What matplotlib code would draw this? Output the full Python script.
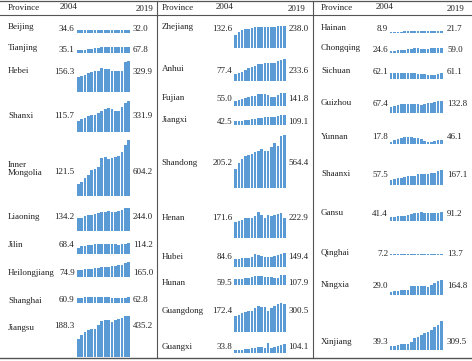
import matplotlib
matplotlib.use('Agg')
import matplotlib.pyplot as plt

# ---------------- data (2004 ... 2019) ----------------
years = list(range(2004, 2020))

beijing      = [34.6, 35, 36, 36, 35, 35, 35, 34, 34, 33, 33, 33, 32, 32, 32, 32.0]
tianjing     = [35.1, 38, 40, 44, 48, 55, 60, 64, 66, 67, 66, 65, 64, 65, 66, 67.8]
hebei        = [156.3, 175, 182, 207, 215, 222, 222, 255, 240, 240, 229, 229, 229, 229, 325, 329.9]
shanxi       = [115.7, 134, 152, 166, 177, 181, 199, 224, 242, 253, 242, 224, 224, 264, 314, 331.9]
inner_mong   = [121.5, 150, 193, 229, 282, 286, 311, 407, 418, 393, 411, 418, 429, 471, 550, 604.2]
liaoning     = [134.2, 142, 160, 168, 168, 180, 190, 200, 205, 210, 205, 205, 210, 225, 242, 244.0]
jilin        = [68.4, 82, 90, 94, 100, 105, 108, 108, 108, 108, 104, 112, 100, 108, 110, 114.2]
heilongjiang = [74.9, 80, 85, 90, 95, 100, 105, 108, 110, 115, 118, 120, 128, 138, 150, 165.0]
shanghai     = [60.9, 62, 63, 63, 64, 65, 66, 68, 67, 65, 62, 60, 60, 61, 62, 62.8]
jiangsu      = [188.3, 236, 272, 290, 297, 300, 344, 388, 399, 399, 380, 399, 409, 417, 435, 435.2]

zhejiang     = [132.6, 167, 191, 202, 205, 212, 229, 226, 222, 219, 219, 222, 229, 236, 236, 238.0]
anhui        = [77.4, 89, 100, 118, 136, 154, 164, 182, 189, 196, 193, 200, 200, 211, 232, 233.6]
fujian       = [55.0, 60, 75, 85, 96, 103, 103, 128, 124, 124, 121, 96, 89, 114, 142, 141.8]
jiangxi      = [42.5, 45, 48, 52, 58, 65, 70, 75, 80, 82, 85, 88, 90, 95, 105, 109.1]
shandong     = [205.2, 264, 313, 343, 355, 366, 381, 396, 415, 396, 400, 445, 483, 453, 564, 564.4]
henan        = [171.6, 189, 202, 223, 223, 223, 240, 281, 257, 223, 247, 240, 247, 260, 274, 222.9]
hubei        = [84.6, 88, 96, 103, 103, 114, 139, 128, 121, 114, 114, 114, 121, 128, 149, 149.4]
hunan        = [59.5, 65, 70, 75, 78, 82, 95, 100, 95, 90, 88, 85, 80, 76, 105, 107.9]
guangdong    = [172.4, 181, 199, 217, 224, 228, 253, 279, 272, 272, 224, 261, 282, 300, 308, 300.5]
guangxi      = [33.8, 37, 40, 44, 50, 55, 62, 68, 70, 60, 110, 55, 65, 75, 95, 104.1]

hainan       = [8.9, 10, 11, 12, 13, 14, 15, 16, 17, 18, 18, 19, 19, 20, 21, 21.7]
chongqing    = [24.6, 28, 32, 36, 40, 45, 50, 55, 52, 50, 48, 50, 52, 55, 58, 59.0]
sichuan      = [62.1, 65, 66, 65, 63, 64, 62, 60, 58, 55, 50, 45, 42, 45, 55, 61.1]
guizhou      = [67.4, 78, 89, 96, 96, 100, 100, 100, 96, 89, 96, 107, 114, 121, 128, 132.8]
yunnan       = [17.8, 40, 55, 65, 72, 75, 75, 70, 60, 50, 35, 25, 22, 30, 40, 46.1]
shaanxi      = [57.5, 64, 71, 79, 86, 93, 100, 93, 114, 121, 121, 121, 125, 129, 150, 167.1]
gansu        = [41.4, 44, 47, 50, 55, 62, 70, 80, 88, 90, 88, 86, 85, 85, 88, 91.2]
qinghai      = [7.2, 7.5, 8, 8.5, 9, 9.5, 10, 11, 11.5, 12, 12, 12.5, 13, 13, 13.5, 13.7]
ningxia      = [29.0, 38, 45, 50, 54, 57, 93, 93, 93, 93, 93, 82, 111, 129, 146, 164.8]
xinjiang     = [39.3, 43, 54, 61, 61, 65, 90, 126, 144, 162, 180, 198, 216, 252, 270, 309.5]

header_labels = ["Province", "2004", "2019"]

# ---------------- layout (pixels) ----------------
W, H = 472, 361
SCALE = 0.0925          # px per unit of value
YMAX = 700.0
BAR_COLOR = '#5B9BD5'
FS = 6.5
FONT = 'Liberation Serif'

# (label_x, start_val_right_x, bar_x0, bar_x1, end_val_x, hdr_2004_x, hdr_2019_x)
columns = [
    (8, 74.5, 76.5, 130.5, 133, 60, 136),
    (161.5, 232.5, 234, 286, 288.5, 216, 288),
    (321, 388, 389.5, 443, 447, 376, 447),
]

# (column, name lines, values, label_y, value_y, baseline_y)
rows = [
    (0, ["Beijing"], beijing, 26.7, 29.0, 33.3),
    (0, ["Tianjing"], tianjing, 48.3, 50.5, 53.3),
    (0, ["Hebei"], hebei, 70.7, 72.5, 91.7),
    (0, ["Shanxi"], shanxi, 115.5, 116.5, 131.7),
    (0, ["Inner", "Mongolia"], inner_mong, (165.0, 173.3), 171.7, 195.7),
    (0, ["Liaoning"], liaoning, 217.3, 217.3, 230.7),
    (0, ["Jilin"], jilin, 245.0, 245.0, 254.0),
    (0, ["Heilongjiang"], heilongjiang, 273.3, 273.3, 277.3),
    (0, ["Shanghai"], shanghai, 301.0, 299.5, 303.3),
    (0, ["Jiangsu"], jiangsu, 327.7, 326.0, 356.7),

    (1, ["Zhejiang"], zhejiang, 26.7, 29.0, 47.7),
    (1, ["Anhui"], anhui, 69.0, 70.7, 81.0),
    (1, ["Fujian"], fujian, 98.3, 99.3, 105.7),
    (1, ["Jiangxi"], jiangxi, 120.5, 121.7, 125.0),
    (1, ["Shandong"], shandong, 162.7, 163.3, 187.7),
    (1, ["Henan"], henan, 217.7, 217.7, 238.3),
    (1, ["Hubei"], hubei, 256.7, 257.3, 267.3),
    (1, ["Hunan"], hunan, 282.7, 282.7, 285.0),
    (1, ["Guangdong"], guangdong, 311.0, 311.0, 331.7),
    (1, ["Guangxi"], guangxi, 347.3, 347.3, 353.3),

    (2, ["Hainan"], hainan, 28.3, 29.3, 32.7),
    (2, ["Chongqing"], chongqing, 48.3, 50.0, 53.3),
    (2, ["Sichuan"], sichuan, 70.7, 72.5, 79.0),
    (2, ["Guizhou"], guizhou, 102.7, 104.0, 113.3),
    (2, ["Yunnan"], yunnan, 136.7, 136.7, 144.0),
    (2, ["Shaanxi"], shaanxi, 174.0, 175.0, 185.0),
    (2, ["Gansu"], gansu, 213.3, 214.0, 220.7),
    (2, ["Qinghai"], qinghai, 253.3, 254.5, 255.0),
    (2, ["Ningxia"], ningxia, 285.0, 286.5, 295.0),
    (2, ["Xinjiang"], xinjiang, 341.7, 341.7, 350.0),
]

fig = plt.figure(figsize=(W / 100, H / 100), dpi=100)
fig.patch.set_facecolor('white')

tax = fig.add_axes([0, 0, 1, 1])
tax.set_xlim(0, W)
tax.set_ylim(H, 0)
tax.axis('off')

txt = dict(fontsize=FS, family=FONT, color='#222222')

# table rules
LC = '#555555'
tax.plot([0, W], [1.0, 1.0], color=LC, lw=0.9)
tax.plot([0, W], [15.0, 15.0], color=LC, lw=0.8)
tax.plot([0, W], [357.8, 357.8], color=LC, lw=1.0)
for xv in (157, 313):
    tax.plot([xv, xv], [1.0, 357.8], color=LC, lw=0.8)

# headers
for (lx, sx, bx0, bx1, ex, h04, h19) in columns:
    tax.text(lx, 7.5, header_labels[0], ha='left', va='center', **txt)
    tax.text(h04, 7.0, header_labels[1], ha='left', va='center', **txt)
    tax.text(h19, 9.0, header_labels[2], ha='left', va='center', **txt)

# rows
for col, name, vals, ly, vy, base in rows:
    lx, sx, bx0, bx1, ex, h04, h19 = columns[col]
    if len(name) == 1:
        tax.text(lx, ly, name[0], ha='left', va='center', **txt)
    else:
        for nm, yy in zip(name, ly):
            tax.text(lx, yy, nm, ha='left', va='center', **txt)
    tax.text(sx, vy, f"{vals[0]:.1f}", ha='right', va='center', **txt)
    tax.text(ex, vy, f"{vals[-1]:.1f}", ha='left', va='center', **txt)

    ah = YMAX * SCALE
    ax = fig.add_axes([bx0 / W, 1 - base / H, (bx1 - bx0) / W, ah / H])
    ax.bar(range(len(years)), vals, width=0.78, color=BAR_COLOR, linewidth=0)
    ax.set_xlim(-0.5, len(years) - 0.5)
    ax.set_ylim(0, YMAX)
    ax.patch.set_alpha(0)
    ax.axis('off')

fig.savefig('out.png', dpi=100, facecolor='white')
